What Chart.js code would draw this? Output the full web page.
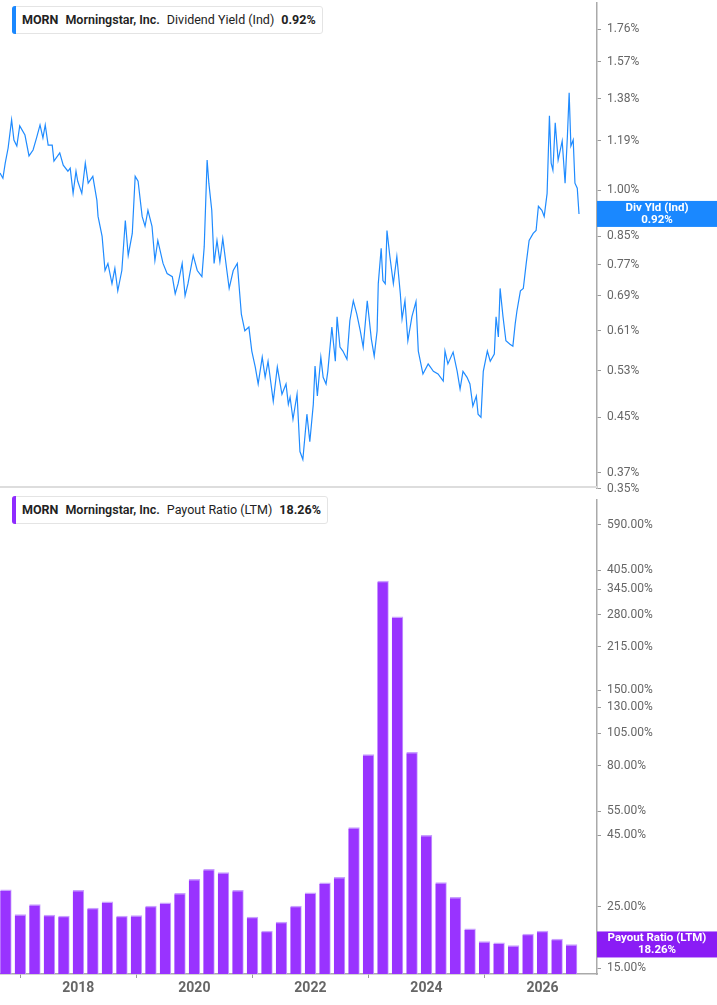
<!DOCTYPE html>
<html><head><meta charset="utf-8">
<script src="https://cdn.jsdelivr.net/npm/chart.js@4/dist/chart.umd.min.js"></script>
<style>
html,body{margin:0;padding:0;background:#fff;font-family:Roboto,"Noto Sans",sans-serif;}
#wrap{position:relative;width:717px;height:1005px;overflow:hidden;}
#c1{position:absolute;left:0;top:-10px;}
#c2{position:absolute;left:0;top:487px;}
.leg{position:absolute;left:12px;height:26px;background:#fff;border:1px solid #e4e4e4;border-radius:3px;font-size:12.5px;color:#222;line-height:26px;padding-left:9px;padding-right:6px;white-space:nowrap;}
.leg:before{content:"";position:absolute;left:-1px;top:-1px;bottom:-1px;width:4px;border-radius:3px 0 0 3px;background:var(--c);}
.leg b{font-weight:700;margin-right:7px;}
.leg span{margin-right:7px;}
#sep{position:absolute;left:0;top:486px;width:597px;height:2px;background:#ddd;}
</style></head><body>
<div id="wrap">
<canvas id="c1" width="717" height="512"></canvas>
<canvas id="c2" width="717" height="518"></canvas>
<div id="sep"></div>
<div class="leg" style="top:6px;--c:#1a88ff"><b>MORN</b><b style="font-weight:600">Morningstar, Inc.</b><span>Dividend Yield (Ind)</span><b style="margin-right:0">0.92%</b></div>
<div class="leg" style="top:496px;--c:#8f2bff"><b>MORN</b><b style="font-weight:600">Morningstar, Inc.</b><span>Payout Ratio (LTM)</span><b style="margin-right:0">18.26%</b></div>
</div>
<script>
// ---- Dividend yield (%) ----
const yieldDates = [2016.65,2016.70,2016.74,2016.79,2016.85,2016.89,2016.94,2016.99,2017.08,2017.15,2017.22,2017.28,2017.34,2017.39,2017.43,2017.48,2017.55,2017.58,2017.68,2017.74,2017.82,2017.86,2017.91,2017.96,2017.99,2018.06,2018.12,2018.17,2018.25,2018.32,2018.34,2018.41,2018.46,2018.51,2018.58,2018.63,2018.68,2018.75,2018.81,2018.86,2018.93,2018.98,2019.03,2019.10,2019.15,2019.20,2019.27,2019.32,2019.37,2019.46,2019.53,2019.62,2019.67,2019.72,2019.79,2019.84,2019.89,2019.98,2020.05,2020.13,2020.17,2020.22,2020.25,2020.30,2020.34,2020.39,2020.44,2020.49,2020.56,2020.60,2020.67,2020.74,2020.81,2020.87,2020.94,2020.99,2021.05,2021.10,2021.17,2021.22,2021.27,2021.36,2021.43,2021.51,2021.58,2021.62,
2021.65,2021.70,2021.77,2021.82,2021.87,2021.94,2021.99,2022.05,2022.08,2022.12,2022.18,2022.22,2022.27,2022.30,2022.37,2022.43,2022.46,2022.51,2022.56,2022.63,2022.68,2022.74,2022.80,2022.86,2022.91,2022.98,2023.05,2023.10,2023.15,2023.17,2023.22,2023.25,2023.29,2023.32,2023.37,2023.43,2023.49,2023.55,2023.58,2023.63,2023.68,2023.75,2023.82,2023.86,2023.94,2024.03,2024.12,2024.20,2024.29,2024.32,2024.37,2024.46,2024.53,2024.58,2024.63,2024.70,2024.75,2024.80,2024.86,2024.89,2024.94,2024.98,2025.05,2025.10,2025.17,2025.20,2025.24,2025.27,2025.32,2025.37,2025.44,2025.49,2025.53,2025.56,2025.62,2025.67,2025.72,2025.77,2025.84,2025.89,2025.93,2025.99,2026.03,2026.08,2026.12,2026.15,2026.18,2026.22,2026.27,2026.34,2026.39,2026.43,2026.46,2026.49,2026.53,2026.56,2026.60,2026.63];
const yieldValues = [1.062,1.043,1.100,1.160,1.281,1.193,1.168,1.254,1.214,1.128,1.152,1.202,1.258,1.202,1.258,1.172,1.172,1.108,1.140,1.092,1.069,1.081,0.989,1.069,1.032,0.989,1.100,1.025,1.050,0.965,0.912,0.850,0.754,0.773,0.720,0.760,0.702,0.754,0.899,0.795,0.859,1.050,1.032,0.912,0.881,0.932,0.881,0.781,0.838,0.773,0.746,0.738,0.695,0.720,0.773,0.690,0.720,0.795,0.754,0.738,0.820,1.112,1.025,0.932,0.773,0.838,0.778,0.844,0.754,0.708,0.754,0.773,0.647,0.610,0.618,0.568,0.537,0.506,0.556,0.518,0.548,0.476,0.537,0.488,0.506,0.471,
0.483,0.447,0.488,0.399,0.388,0.455,0.413,0.471,0.539,0.485,0.556,0.518,0.506,0.529,0.618,0.548,0.641,0.576,0.568,0.552,0.632,0.678,0.647,0.610,0.576,0.678,0.593,0.558,0.610,0.720,0.815,0.728,0.720,0.868,0.792,0.720,0.792,0.695,0.636,0.678,0.589,0.641,0.676,0.568,0.524,0.543,0.529,0.524,0.511,0.568,0.543,0.566,0.529,0.497,0.529,0.518,0.506,0.468,0.485,0.455,0.450,0.529,0.568,0.548,0.562,0.641,0.597,0.708,0.641,0.589,0.582,0.578,0.625,0.654,0.702,0.708,0.773,0.838,0.859,0.868,0.945,0.932,0.912,0.989,1.299,1.100,1.073,1.267,1.112,1.189,1.025,1.210,1.409,1.168,1.193,1.025,1.007,0.920];
const yieldTicks = [0.35,0.37,0.45,0.53,0.61,0.69,0.77,0.85,1.00,1.19,1.38,1.57,1.76];

// ---- Payout ratio (%) quarterly ----
const payoutDates = [2016.75,2017.00,2017.25,2017.50,2017.75,2018.00,2018.25,2018.50,2018.75,2019.00,2019.25,2019.50,2019.75,2020.00,2020.25,2020.50,2020.75,2021.00,2021.25,2021.50,2021.75,2022.00,2022.25,2022.50,2022.75,2023.00,2023.25,2023.50,2023.75,2024.00,2024.25,2024.50,2024.75,2025.00,2025.25,2025.50,2025.75,2026.00,2026.25,2026.50];
const payoutValues = [28.7,23.4,25.4,23.3,23.1,28.6,24.7,26.0,23.1,23.2,25.1,25.8,27.9,31.3,34.0,33.1,28.6,22.9,20.4,22.0,25.1,28.0,30.4,31.8,48.0,88.0,370.0,275.0,89.6,45.1,30.5,27.0,20.8,18.7,18.5,18.1,19.9,20.4,19.1,18.26];
const payoutTicks = [15,25,45,55,80,105,130,150,215,280,345,405,590];
const yearTicks = [2018,2020,2022,2024,2026];

const X_MIN = 2016.65, X_MAX = 2026.94;
const AX = '#666', FONT = {family:'Roboto, "Noto Sans", sans-serif', size:12};

function lastLabel(color, title, val){
  return {id:'lastLabel', afterDraw(chart){
    const ds = chart.data.datasets[0].data, last = ds[ds.length-1];
    const y = chart.scales.y.getPixelForValue(last.y);
    const ctx = chart.ctx, x0 = chart.chartArea.right;
    ctx.save();
    ctx.fillStyle = color;
    ctx.fillRect(x0, y-13, chart.width-x0, 26);
    ctx.fillStyle = '#fff';
    ctx.font = 'bold 11.5px Roboto, sans-serif';
    ctx.textAlign = 'center'; ctx.textBaseline='middle';
    const cx = x0 + (chart.width-x0)/2;
    ctx.fillText(title, cx, y-6);
    ctx.fillText(val, cx, y+6);
    ctx.restore();
  }};
}

const yAxisCommon = (ticks, mn, mx) => ({
  type:'logarithmic', position:'right', min:mn, max:mx,
  afterBuildTicks(s){ s.ticks = ticks.map(v=>({value:v})); },
  afterFit(s){ s.width = 120; },
  grid:{drawOnChartArea:false, drawTicks:true, tickLength:4, color:'#999'},
  border:{display:true, color:'#aaa', width:1.5},
  ticks:{color:AX, font:FONT, padding:6, autoSkip:false, callback:v=>Number(v).toFixed(2)+'%'}
});

new Chart(document.getElementById('c1'), {
  type:'line',
  data:{datasets:[{data:yieldDates.map((d,i)=>({x:d,y:yieldValues[i]})), borderColor:'#1f8bff', borderWidth:1.2, pointRadius:0, tension:0}]},
  options:{
    responsive:false, animation:false, events:[],
    layout:{padding:0},
    plugins:{legend:{display:false}, tooltip:{enabled:false}},
    scales:{
      x:{type:'linear', min:X_MIN, max:X_MAX, display:false},
      y:yAxisCommon(yieldTicks, 0.35, 1.93)
    }
  },
  plugins:[lastLabel('#1a88ff','Div Yld (Ind)','0.92%')]
});

new Chart(document.getElementById('c2'), {
  type:'bar',
  data:{datasets:[{data:payoutDates.map((d,i)=>({x:d,y:payoutValues[i]})), backgroundColor:'#9933ff', borderColor:'#c9a0ff', borderWidth:{top:1.5,left:0,right:1,bottom:0}, barThickness:11}]},
  options:{
    responsive:false, animation:false, events:[],
    layout:{padding:{top:2}},
    plugins:{legend:{display:false}, tooltip:{enabled:false}},
    scales:{
      x:{type:'linear', min:X_MIN, max:X_MAX, offset:false,
         afterBuildTicks(s){ s.ticks = yearTicks.map(v=>({value:v})); },
         afterFit(s){ s.height = 31; },
         grid:{drawOnChartArea:false, drawTicks:true, tickLength:4, color:'#999'},
         border:{display:true, color:'#aaa', width:1.5},
         ticks:{color:AX, font:{family:FONT.family, size:14, weight:'bold'}, padding:2, callback:v=>String(v)}},
      y:yAxisCommon(payoutTicks, 14.3, 722)
    }
  },
  plugins:[lastLabel('#8a1cf5','Payout Ratio (LTM)','18.26%')]
});
</script>
</body></html>
